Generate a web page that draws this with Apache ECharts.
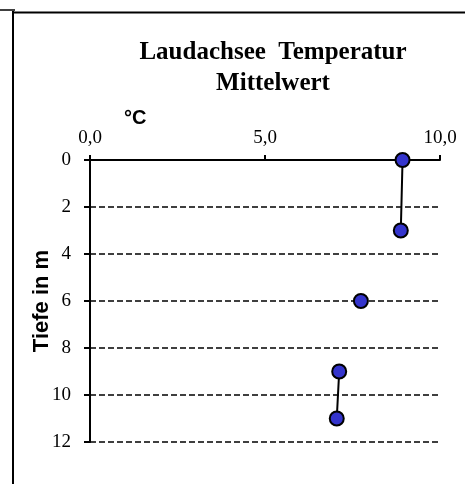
<!DOCTYPE html>
<html>
<head>
<meta charset="utf-8">
<script src="https://cdn.jsdelivr.net/npm/echarts@6/dist/echarts.min.js"></script>
<style>
  html, body { margin: 0; padding: 0; background: #fff; }
  #chart { width: 465px; height: 484px; }
</style>
</head>
<body>
<div id="chart"></div>
<script>
// Mean temperature profile of the Laudachsee (depth in m vs. °C).
// null marks a break in the profile line.
const depths = [0, 3, null, 6, null, 9, 11];
const temps = [8.93, 8.88, null, 7.74, null, 7.12, 7.05];
const tempTicks = [0, 5, 10];
const depthTicks = [0, 2, 4, 6, 8, 10, 12];

const profile = depths.map((d, i) =>
  (d === null || temps[i] === null) ? '-' : [temps[i], d]
);

const serif = '"Liberation Serif", "Times New Roman", serif';
const sans = '"Liberation Sans", Arial, sans-serif';

const chart = echarts.init(document.getElementById('chart'), null, { renderer: 'canvas' });

chart.setOption({
  backgroundColor: '#ffffff',
  animation: false,
  title: {
    text: 'Laudachsee  Temperatur\nMittelwert',
    left: 268,
    top: 32,
    textAlign: 'center',
    textStyle: {
      fontFamily: serif,
      fontWeight: 'bold',
      fontSize: 25,
      lineHeight: 31,
      color: '#000'
    }
  },
  grid: { left: 90, right: 25, top: 160, bottom: 42, containLabel: false },
  xAxis: {
    type: 'value',
    position: 'top',
    min: tempTicks[0],
    max: tempTicks[tempTicks.length - 1],
    interval: tempTicks[1] - tempTicks[0],
    axisLine: { show: true, onZero: false, lineStyle: { color: '#000', width: 2 } },
    axisTick: { show: true, inside: false, length: 5, lineStyle: { color: '#000', width: 2 } },
    splitLine: { show: false },
    axisLabel: {
      margin: 12,
      fontFamily: serif,
      fontSize: 19,
      color: '#000',
      formatter: v => v.toFixed(1).replace('.', ',')
    }
  },
  yAxis: {
    type: 'value',
    inverse: true,
    min: depthTicks[0],
    max: depthTicks[depthTicks.length - 1],
    interval: depthTicks[1] - depthTicks[0],
    axisLine: { show: true, onZero: false, lineStyle: { color: '#000', width: 2 } },
    axisTick: { show: true, inside: false, length: 6, lineStyle: { color: '#000', width: 2 } },
    splitLine: { show: true, lineStyle: { color: '#000', width: 1.5, type: [6, 3] } },
    axisLabel: {
      margin: 19,
      fontFamily: serif,
      fontSize: 19,
      color: '#000'
    }
  },
  graphic: [
    { type: 'line', shape: { x1: 13, y1: 11, x2: 13, y2: 484 }, style: { stroke: '#000', lineWidth: 2 } },
    { type: 'line', shape: { x1: 13, y1: 12.5, x2: 465, y2: 12.5 }, style: { stroke: '#000', lineWidth: 2 } },
    { type: 'line', shape: { x1: 0, y1: 10, x2: 15, y2: 10 }, style: { stroke: '#000', lineWidth: 1.5 } },
    {
      type: 'text',
      left: 124,
      top: 108,
      style: { text: '°C', fontFamily: sans, fontWeight: 'bold', fontSize: 20, fill: '#000' }
    },
    {
      // depth axis title, rotated to read bottom-up
      type: 'text',
      x: 42,
      y: 301,
      rotation: Math.PI / 2,
      style: {
        text: 'Tiefe in m',
        fontFamily: sans,
        fontWeight: 'bold',
        fontSize: 22,
        fill: '#000',
        align: 'center',
        verticalAlign: 'middle'
      }
    }
  ],
  series: [{
    type: 'line',
    data: profile,
    connectNulls: false,
    symbol: 'circle',
    symbolSize: 14,
    itemStyle: { color: '#3434CC', borderColor: '#000', borderWidth: 2 },
    lineStyle: { color: '#000', width: 2 }
  }]
});
</script>
</body>
</html>
